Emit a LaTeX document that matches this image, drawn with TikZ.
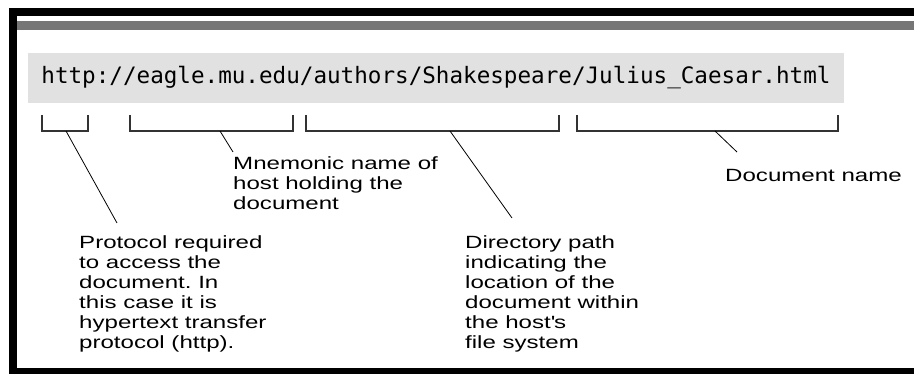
\documentclass[tikz,border=0pt]{standalone}
\usepackage{fontspec}
\setmainfont{Liberation Sans}[FakeStretch=1.36]
\newfontfamily\urlfont{DejaVu Sans Mono}
\definecolor{bandgray}{RGB}{118,118,118}
\definecolor{boxgray}{RGB}{225,225,225}
\frenchspacing

\begin{document}
\begin{tikzpicture}[x=1pt, y=-1pt,
    note/.style={anchor=north west, align=left, inner sep=0pt,
        font=\fontsize{17.7}{20}\selectfont},
    brace/.style={draw=black!80, line width=1.2pt},
    leader/.style={draw=black, line width=0.8pt}]
    \useasboundingbox (0,0) rectangle (914,374);

    % 1. Khung đen và dải xám phía trên
    \fill[black] (9,8) rectangle (914,16);
    \fill[black] (9,8) rectangle (17,374);
    \fill[black] (9,368) rectangle (914,374);
    \fill[bandgray] (17,21) rectangle (914,30);

    % 2. Địa chỉ URL trong hộp xám
    \node[fill=boxgray, minimum width=816pt, minimum height=50pt, inner sep=0pt,
        font=\urlfont\fontsize{22.6}{26}\selectfont]
        (url) at (436,78) {http://eagle.mu.edu/authors/Shakespeare/Julius\_Caesar.html};

    % 3. Các ngoặc dưới từng phần
    \draw[brace] (42,115) -- (42,131) -- (88,131) -- (88,115);
    \draw[brace] (130,115) -- (130,131) -- (293,131) -- (293,115);
    \draw[brace] (306,115) -- (306,131) -- (559,131) -- (559,115);
    \draw[brace] (577,115) -- (577,131) -- (838,131) -- (838,115);
    \coordinate (proto-b) at (66,131);
    \coordinate (host-b) at (220,131);
    \coordinate (dir-b) at (450,131);
    \coordinate (doc-b) at (715,131);

    % 4. Chú thích
    \node[note] (proto) at (79,235)
        {Protocol required\\to access the\\document. In\\this case it is\\hypertext transfer\\protocol (http).};
    \node[note] (host) at (233,156)
        {Mnemonic name of\\host holding the\\document};
    \node[note] (dir) at (465,235)
        {Directory path\\indicating the\\location of the\\document within\\the host\textquotesingle s\\file system};
    \node[note] (doc) at (725,169) {Document name};

    % 5. Đường nối từ ngoặc tới chú thích
    \draw[leader] (proto-b) -- ([xshift=38pt, yshift=12pt]proto.north west);
    \draw[leader] (host-b) -- ([yshift=4pt]host.north west);
    \draw[leader] (dir-b) -- ([xshift=47pt, yshift=17pt]dir.north west);
    \draw[leader] (doc-b) -- ([xshift=12pt, yshift=17pt]doc.north west);
\end{tikzpicture}
\end{document}
